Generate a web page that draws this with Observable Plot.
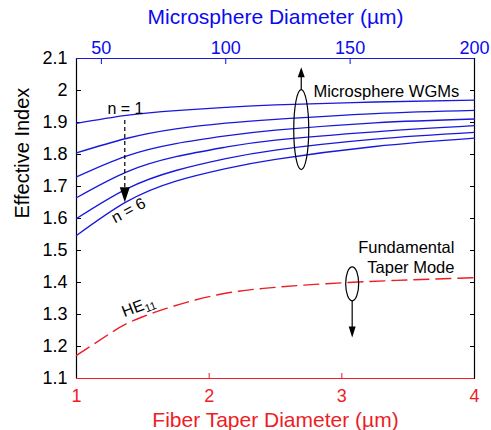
<!DOCTYPE html>
<html><head><meta charset="utf-8">
<script src="https://cdn.jsdelivr.net/npm/d3@7"></script>
<script src="https://cdn.jsdelivr.net/npm/@observablehq/plot@0.6"></script>
<style>body{margin:0;background:#fff}</style>
</head><body><div id="chart"></div>
<script>
// Microsphere WGM curves (top axis: microsphere diameter, µm)
const sphereDiam = [40, 60, 80, 100, 120, 160, 200];
const wgm1 = [1.897, 1.922, 1.937, 1.947, 1.955, 1.964, 1.970];
const wgm2 = [1.805, 1.850, 1.880, 1.898, 1.910, 1.928, 1.938];
const wgm3 = [1.730, 1.795, 1.834, 1.858, 1.876, 1.899, 1.911];
const wgm4 = [1.665, 1.745, 1.793, 1.823, 1.845, 1.871, 1.890];
const wgm5 = [1.600, 1.692, 1.750, 1.787, 1.814, 1.848, 1.869];
const wgm6 = [1.547, 1.652, 1.717, 1.756, 1.785, 1.825, 1.851];
// Fundamental taper mode HE11 (bottom axis: fiber taper diameter, µm)
const taperDiam = [1, 1.25, 1.5, 2, 2.5, 3, 3.5, 4];
const he11 = [1.172, 1.240, 1.293, 1.356, 1.385, 1.399, 1.408, 1.415];
// Ticks
const yTicks = [1.1, 1.2, 1.3, 1.4, 1.5, 1.6, 1.7, 1.8, 1.9, 2.0, 2.1];
const bottomTicks = [1, 2, 3, 4];
const topTicks = [50, 100, 150, 200];
const sphereDomain = [40, 200];
const taperDomain = [1, 4];

const BLUE = "#1818dc", BLUE_TXT = "#0a0af0", RED = "#ee1c24";
const toT = D => taperDomain[0] + (D - sphereDomain[0]) * (taperDomain[1] - taperDomain[0]) / (sphereDomain[1] - sphereDomain[0]);
const fromT = t => sphereDomain[0] + (t - taperDomain[0]) * (sphereDomain[1] - sphereDomain[0]) / (taperDomain[1] - taperDomain[0]);

const wgmSeries = [wgm1, wgm2, wgm3, wgm4, wgm5, wgm6];
const wgmData = wgmSeries.flatMap((vals, i) => sphereDiam.map((D, j) => ({n: i + 1, D, v: vals[j]})));
const heData = taperDiam.map((d, j) => ({d, v: he11[j]}));

function ellipseSymbol(rx, ry) {
  const k = 0.5523;
  return {draw(ctx) {
    ctx.moveTo(rx, 0);
    ctx.bezierCurveTo(rx, k * ry, k * rx, ry, 0, ry);
    ctx.bezierCurveTo(-k * rx, ry, -rx, k * ry, -rx, 0);
    ctx.bezierCurveTo(-rx, -k * ry, -k * rx, -ry, 0, -ry);
    ctx.bezierCurveTo(k * rx, -ry, rx, -k * ry, rx, 0);
    ctx.closePath();
  }};
}
function headSymbol(w, h, dir) {
  return {draw(ctx) {
    ctx.moveTo(0, 0);
    ctx.lineTo(-w / 2, -dir * h);
    ctx.lineTo(w / 2, -dir * h);
    ctx.closePath();
  }};
}
const fmtY = d => String(+d.toFixed(1));
const FONT = "'Liberation Sans', Arial, Helvetica, sans-serif";

// HE11 label: main text + subscript, offset along the rotated baseline
const heAngle = -21;
const rad = heAngle * Math.PI / 180;
const subAlong = 22.5, subDown = 5;
const subDx = subAlong * Math.cos(rad) - subDown * Math.sin(rad);
const subDy = subAlong * Math.sin(rad) + subDown * Math.cos(rad);

const chart = Plot.plot({
  width: 491, height: 430,
  marginLeft: 76, marginRight: 17, marginTop: 58, marginBottom: 52,
  style: {fontFamily: FONT, fontSize: "18px", background: "white", color: "black"},
  x: {domain: taperDomain, label: null},
  y: {domain: [1.1, 2.1], label: null},
  marks: [
    Plot.axisY({anchor: "left", ticks: yTicks, tickFormat: fmtY, tickSize: -5, tickPadding: 14, fontSize: 18, label: null}),
    Plot.axisY({anchor: "right", ticks: yTicks, tickFormat: () => "", tickSize: -5, label: null}),
    Plot.axisX({anchor: "bottom", ticks: bottomTicks, tickFormat: d => String(d), tickSize: -5, tickPadding: 16, color: RED, fontSize: 18, label: null}),
    Plot.axisX({anchor: "top", ticks: topTicks.map(toT), tickFormat: t => String(Math.round(fromT(t))), tickSize: -5, tickPadding: 10, color: BLUE_TXT, fontSize: 18, label: null}),
    Plot.ruleX([taperDomain[0], taperDomain[1]], {stroke: "black", strokeWidth: 1.2}),
    Plot.ruleY([2.1], {stroke: BLUE, strokeWidth: 1.2}),
    Plot.ruleY([1.1], {stroke: RED, strokeWidth: 1.2}),
    Plot.line(wgmData, {x: d => toT(d.D), y: "v", z: "n", stroke: BLUE, strokeWidth: 1.3, curve: "natural"}),
    Plot.line(heData, {x: "d", y: "v", stroke: RED, strokeWidth: 1.4, strokeDasharray: "15,7", curve: "natural"}),
    // axis titles
    Plot.text(["Microsphere Diameter (µm)"], {frameAnchor: "top", dy: -41, fill: BLUE_TXT, fontSize: 21, lineAnchor: "middle"}),
    Plot.text(["Fiber Taper Diameter (µm)"], {frameAnchor: "bottom", dy: 42, fill: RED, fontSize: 21, lineAnchor: "middle"}),
    Plot.text(["Effective Index"], {frameAnchor: "left", dx: -54, rotate: -90, fontSize: 20, lineAnchor: "middle"}),
    // n = 1 ... n = 6 annotation
    Plot.text(["n = 1"], {x: 1.369, y: 1.944, fontSize: 16, lineAnchor: "middle"}),
    Plot.link([0], {x1: 1.364, y1: 1.908, x2: 1.364, y2: 1.685, stroke: "black", strokeWidth: 1.2, strokeDasharray: "4,3"}),
    Plot.dot([0], {x: 1.364, y: 1.651, symbol: headSymbol(10, 15, 1), fill: "black", stroke: "none"}),
    Plot.text(["n = 6"], {x: 1.392, y: 1.625, rotate: -28, fontSize: 16, lineAnchor: "middle"}),
    // Microsphere WGMs
    Plot.dot([0], {x: 2.694, y: 1.878, symbol: ellipseSymbol(7.5, 40), fill: "none", stroke: "black", strokeWidth: 1.2}),
    Plot.link([0], {x1: 2.694, y1: 2.003, x2: 2.694, y2: 2.06, stroke: "black", strokeWidth: 1.2}),
    Plot.dot([0], {x: 2.694, y: 2.073, symbol: headSymbol(7, 10, -1), fill: "black", stroke: "none"}),
    Plot.text(["Microsphere WGMs"], {x: 2.786, y: 1.997, textAnchor: "start", fontSize: 16.5, lineAnchor: "middle"}),
    // Fundamental taper mode
    Plot.dot([0], {x: 3.078, y: 1.396, symbol: ellipseSymbol(6.5, 17), fill: "none", stroke: "black", strokeWidth: 1.2}),
    Plot.link([0], {x1: 3.078, y1: 1.343, x2: 3.078, y2: 1.245, stroke: "black", strokeWidth: 1.2}),
    Plot.dot([0], {x: 3.078, y: 1.228, symbol: headSymbol(7, 11, 1), fill: "black", stroke: "none"}),
    Plot.text(["Fundamental"], {x: 3.849, y: 1.509, textAnchor: "end", fontSize: 16.5, lineAnchor: "middle"}),
    Plot.text(["Taper Mode"], {x: 3.849, y: 1.447, textAnchor: "end", fontSize: 16.5, lineAnchor: "middle"}),
    Plot.text(["HE"], {x: 1.347, y: 1.306, rotate: heAngle, textAnchor: "start", fontSize: 16, lineAnchor: "middle"}),
    Plot.text(["11"], {x: 1.347, y: 1.306, dx: subDx, dy: subDy, rotate: heAngle, textAnchor: "start", fontSize: 11, lineAnchor: "middle"})
  ]
});
document.getElementById("chart").appendChild(chart);
</script>
</body></html>
